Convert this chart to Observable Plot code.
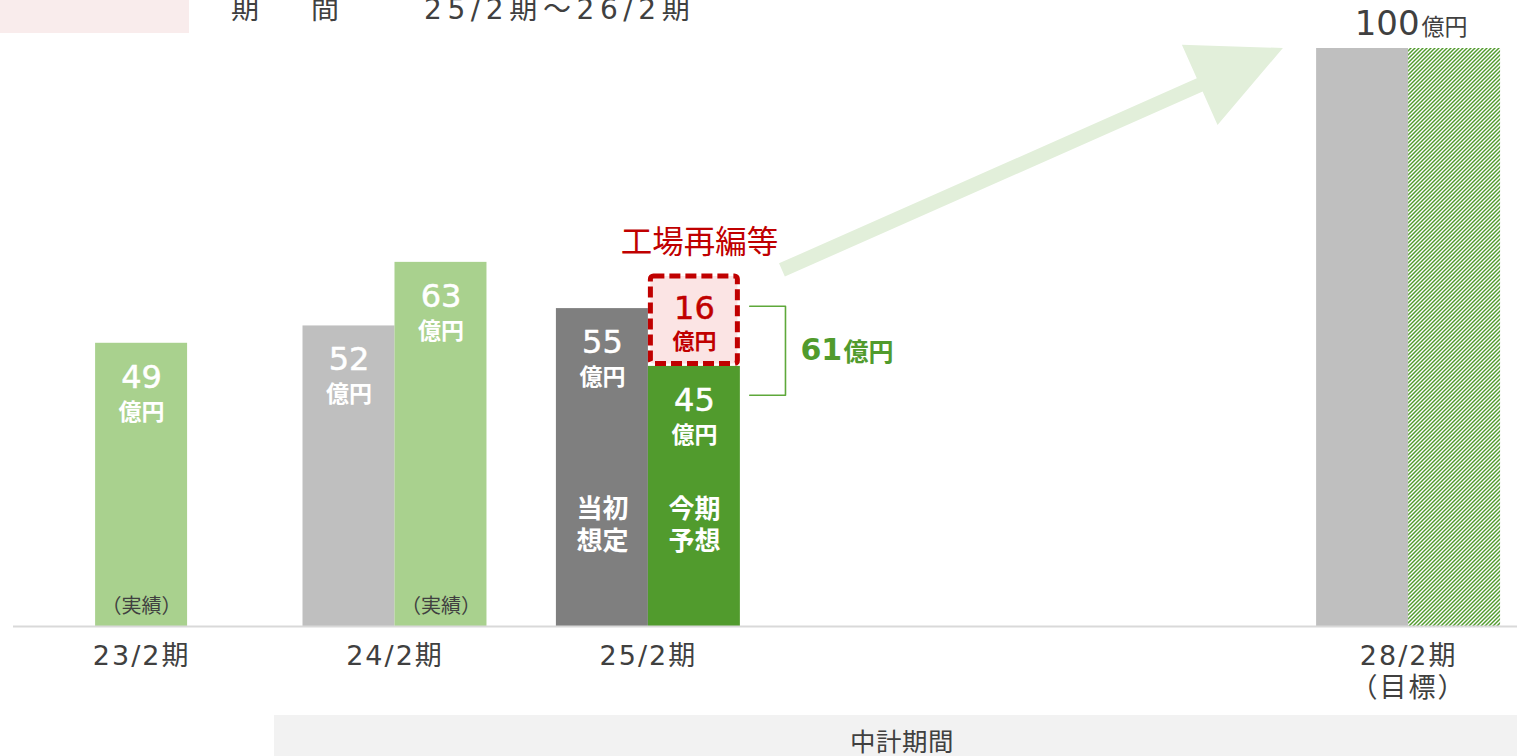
<!DOCTYPE html>
<html>
<head>
<meta charset="utf-8">
<script src="https://cdn.jsdelivr.net/npm/d3@7"></script>
<script src="https://cdn.jsdelivr.net/npm/@observablehq/plot@0.6"></script>
<style>
  body { margin: 0; background: #fff; font-family: "Noto Sans CJK JP", "Noto Sans", sans-serif; }
  #wrap { position: relative; width: 1517px; height: 756px; overflow: hidden; }
  #header { position: relative; height: 33px; overflow: hidden; }
  #pink { position: absolute; left: 0; top: 0; width: 189px; height: 33px; background: #f9ecec; }
  .ht { position: absolute; top: -4px; font-size: 28px; line-height: 28px; color: #404040; white-space: pre;
        font-family: "DejaVu Sans", "Noto Sans CJK JP", sans-serif; }
  #footer { position: absolute; left: 274px; top: 715px; width: 1243px; height: 41px; background: #f2f2f2; }
  #footer span { position: absolute; left: 576px; top: 11px; font-size: 25.5px; line-height: 28px; color: #404040; letter-spacing: 0.5px; }
  #chart svg { display: block; }
</style>
</head>
<body>
<div id="wrap">
  <div id="header">
    <div id="pink"></div>
    <span class="ht" style="left:231px">期</span>
    <span class="ht" style="left:311px">間</span>
    <span class="ht" style="left:424px; letter-spacing:5.6px">25/2期～26/2期</span>
  </div>
  <div id="chart"></div>
  <div id="footer"><span>中計期間</span></div>
</div>
<script>
// ---- data ----
const years = ["23/2期", "24/2期", "25/2期", "26/2期", "27/2期", "28/2期"];
const tickLabels = ["23/2期", "24/2期", "25/2期", "", "", "28/2期\n（目標）"];
const shownYears = ["23/2期", "24/2期", "25/2期", "28/2期"];

const barYear   = ["23/2期", "24/2期", "24/2期", "25/2期", "25/2期", "25/2期", "28/2期", "28/2期"];
const barSide   = ["center", "left", "right", "left", "right", "right", "left", "right"];
const barSeries = ["実績", "計画", "実績", "当初想定", "今期予想", "工場再編等", "目標", "目標内訳"];
const barValue  = [49, 52, 63, 55, 45, 16, 100, 100];
const barLabel  = ["49", "52", "63", "55", "45", "16", "", ""];
const barFoot   = ["（実績）", "", "（実績）", "", "", "", "", ""];
const barCaption = ["", "", "", "当初\n想定", "今期\n予想", "", "", ""];

const seriesNames  = ["実績", "計画", "当初想定", "今期予想", "工場再編等", "目標", "目標内訳"];
const seriesColors = ["#a9d18e", "#bfbfbf", "#7f7f7f", "#519b2d", "#fbe3e3", "#bfbfbf", "url(#hatch)"];

const factoryTitle = "工場再編等";
const totalLabel = "61";
const targetLabel = "100";
const unitLabel = "億円";

// ---- build rows ----
const BW = 0.363; // bar width in slot units
const rows = barYear.map((yr, i) => {
  const slot = years.indexOf(yr);
  const side = barSide[i];
  const x1 = side === "center" ? slot - BW / 2 : side === "left" ? slot - BW : slot;
  const x2 = side === "center" ? slot + BW / 2 : side === "left" ? slot : slot + BW;
  let base = 0;
  for (let j = 0; j < i; j++) if (barYear[j] === yr && barSide[j] === side) base += barValue[j];
  return {year: yr, series: barSeries[i], value: barValue[i], label: barLabel[i], foot: barFoot[i],
          caption: barCaption[i], x1, x2, xm: (x1 + x2) / 2, y1: base, y2: base + barValue[i]};
});
const solid = rows.filter(d => d.series !== "工場再編等");
const factory = rows.filter(d => d.series === "工場再編等");
const labeled = rows.filter(d => d.label);
const whiteLabeled = labeled.filter(d => d.series !== "工場再編等");
const target = rows.filter(d => d.series === "目標");
const stacked = rows.filter(d => d.series === "今期予想" || d.series === "工場再編等");
const stackTop = d3.max(stacked, d => d.y2);
const stackX = stacked[0].x2;

// annotation geometry (in data units)
const bracket = [[stackX + 0.037, 55.4], [stackX + 0.178, 55.4], [stackX + 0.178, 40], [stackX + 0.037, 40]];
const bracketMid = (bracket[0][1] + bracket[2][1]) / 2;
const arrowFrom = [2.529, 61.6];
const arrowTo = [4.506, 100];

function arrowMark(index, scales) {
  const {x, y} = scales;
  const x0 = x(arrowFrom[0]), y0 = y(arrowFrom[1]);
  const x1 = x(arrowTo[0]), y1 = y(arrowTo[1]);
  const L = Math.hypot(x1 - x0, y1 - y0);
  const ux = (x1 - x0) / L, uy = (y1 - y0) / L, nx = -uy, ny = ux;
  const headLen = 91, headHalf = 44, shaftHalf = 7.2;
  const bx = x1 - ux * headLen, by = y1 - uy * headLen;
  const pts = [
    [x0 + nx * shaftHalf, y0 + ny * shaftHalf],
    [bx + nx * shaftHalf, by + ny * shaftHalf],
    [bx + nx * headHalf, by + ny * headHalf],
    [x1, y1],
    [bx - nx * headHalf, by - ny * headHalf],
    [bx - nx * shaftHalf, by - ny * shaftHalf],
    [x0 - nx * shaftHalf, y0 - ny * shaftHalf]
  ];
  const p = document.createElementNS("http://www.w3.org/2000/svg", "path");
  p.setAttribute("d", "M" + pts.map(q => q.join(",")).join("L") + "Z");
  p.setAttribute("fill", "#e2efda");
  return p;
}

const font = "'Noto Sans CJK JP', 'Noto Sans', sans-serif";
const numFont = "'DejaVu Sans', 'Noto Sans CJK JP', sans-serif";

const chart = Plot.plot({
  width: 1517,
  height: 682,
  marginLeft: 13,
  marginRight: 0,
  marginTop: 15,
  marginBottom: 89,
  x: {domain: [-0.5055, 5.4298], axis: null},
  y: {domain: [0, 100], axis: null},
  color: {domain: seriesNames, range: seriesColors},
  style: {fontFamily: font, overflow: "visible", background: "transparent"},
  marks: [
    arrowMark,
    Plot.rect(solid, {x1: "x1", x2: "x2", y1: "y1", y2: "y2", fill: "series"}),
    Plot.rect(factory, {x1: "x1", x2: "x2", y1: "y1", y2: "y2", fill: "#fbe4e4", stroke: "#c00000",
      strokeWidth: 5, strokeDasharray: "11,5", inset: 2.5, rx: 3}),
    Plot.ruleY([0], {stroke: "#d9d9d9", strokeWidth: 2}),
    // value numbers
    Plot.text(whiteLabeled, {x: "xm", y: "y2", text: "label", dy: 34, fontSize: 32, fontFamily: numFont,
      fill: "white", stroke: "white", strokeWidth: 0.5, ariaLabel: "inbar"}),
    Plot.text(whiteLabeled, {x: "xm", y: "y2", text: () => unitLabel, dy: 69, fontSize: 23, fontWeight: "bold",
      fill: "white", ariaLabel: "inbar"}),
    Plot.text(factory, {x: "xm", y: "y2", text: "label", dy: 35, fontSize: 32, fontFamily: numFont,
      fill: "#c00000", stroke: "#c00000", strokeWidth: 0.5}),
    Plot.text(factory, {x: "xm", y: "y2", text: () => unitLabel, dy: 68, fontSize: 22, fontWeight: "bold", fill: "#c00000"}),
    // captions inside bars
    Plot.text(rows.filter(d => d.caption), {x: "xm", y: 0, text: "caption", dy: -103, fontSize: 26,
      fontWeight: "bold", lineHeight: 1.22, fill: "white", ariaLabel: "inbar"}),
    Plot.text(rows.filter(d => d.foot), {x: "xm", y: 0, text: "foot", dy: -20, fontSize: 20, fill: "#404040",
      ariaLabel: "foot"}),
    // factory title
    Plot.text(factory, {x: "xm", y: "y2", text: () => factoryTitle, dy: -31, dx: 5, fontSize: 31.5, fill: "#c00000"}),
    // bracket and 61
    Plot.line(bracket, {x: d => d[0], y: d => d[1], stroke: "#5ea83a", strokeWidth: 1.6, curve: "linear"}),
    Plot.text([stackTop], {x: bracket[1][0], y: bracketMid, text: () => totalLabel,
      textAnchor: "start", dx: 15, fontSize: 30, fontFamily: numFont, fontWeight: "bold", fill: "#519b2d"}),
    Plot.text([stackTop], {x: bracket[1][0], y: bracketMid, text: () => unitLabel,
      textAnchor: "start", dx: 58, dy: 2, fontSize: 25, fontWeight: "bold", fill: "#519b2d"}),
    // target label
    Plot.text(target, {x: "x2", y: "y2", text: () => targetLabel, textAnchor: "end", dx: 11, dy: -24,
      fontSize: 34, fontFamily: numFont, fill: "#404040"}),
    Plot.text(target, {x: "x2", y: "y2", text: () => unitLabel, textAnchor: "start", dx: 13, dy: -21,
      fontSize: 23, fill: "#404040"}),
    // x axis
    Plot.axisX({ticks: shownYears.map(y => years.indexOf(y)), tickFormat: i => tickLabels[i],
      tickSize: 0, tickPadding: 15, fontSize: 27, fontFamily: numFont, lineHeight: 1.2, fill: "#404040",
      label: null, ariaLabel: "xaxis"})
  ]
});

// pattern + shadow defs
const svgSel = d3.select(chart);
const defs = svgSel.insert("defs", ":first-child");
const pat = defs.append("pattern").attr("id", "hatch").attr("patternUnits", "userSpaceOnUse")
  .attr("width", 4).attr("height", 4);
pat.append("rect").attr("width", 4).attr("height", 4).attr("fill", "#519b2d");
pat.append("path").attr("d", "M-1,1 L1,-1 M0,4 L4,0 M3,5 L5,3").attr("stroke", "#fff").attr("stroke-width", 1.4);
const flt = defs.append("filter").attr("id", "shadow").attr("x", "-20%").attr("y", "-20%")
  .attr("width", "140%").attr("height", "140%");
flt.append("feDropShadow").attr("dx", 1).attr("dy", 1).attr("stdDeviation", 0.8)
  .attr("flood-color", "#000").attr("flood-opacity", 0.45);
svgSel.selectAll("g[aria-label='inbar']").attr("filter", "url(#shadow)");
svgSel.selectAll("g[aria-label^='xaxis'] text, g[aria-label^='x-axis'] text").style("letter-spacing", "2px");
svgSel.selectAll("g[aria-label='foot'] text").style("letter-spacing", "1px");

document.getElementById("chart").appendChild(chart);
</script>
</body>
</html>
